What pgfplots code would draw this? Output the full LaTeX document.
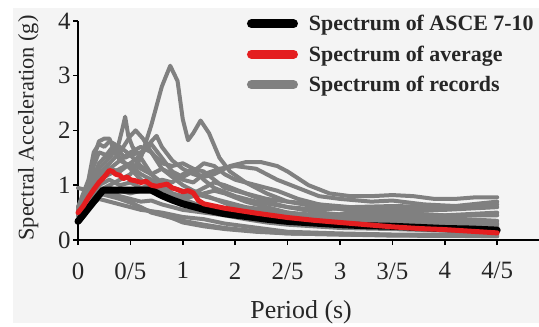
\documentclass[border=0pt]{standalone}
\usepackage{fontspec}
\setmainfont{Liberation Serif}
\usepackage{pgfplots}
\pgfplotsset{compat=1.18}
\definecolor{bgc}{HTML}{F4F4F4}
\definecolor{recg}{HTML}{808080}
\definecolor{avgred}{HTML}{E41E20}
\begin{document}
\begin{tikzpicture}
\useasboundingbox (0,0) rectangle (539bp,-327bp);
\fill[white] (0,0) rectangle (539bp,-327bp);
\fill[bgc] (13bp,-8bp) rectangle (539bp,-323bp);
\begin{axis}[
  at={(78bp,-240bp)}, anchor=south west,
  x=104.8bp, y=54.8bp,
  xmin=0, xmax=4.4, ymin=0, ymax=4,
  axis lines=left,
  axis line style={-, line width=1.6bp, black},
  tick align=outside, major tick length=5bp,
  tick style={line width=1.6bp, black},
  xtick={0,0.5,1,1.5,2,2.5,3,3.5,4},
  xticklabels={0,0/5,1,2,2/5,3,3/5,4,4/5},
  ytick={0,1,2,3,4},
  /pgf/number format/assume math mode=true,
  ticklabel style={font=\fontsize{25}{28}\selectfont, text=black!85},
  xticklabel style={yshift=-14bp},
  yticklabel style={xshift=1bp},
  xlabel={Period (s)}, ylabel={Spectral Acceleration (g)},
  xlabel style={at={(axis description cs:0.484,-0.33)}, anchor=center, font=\fontsize{26}{30}\selectfont, text=black!85},
  ylabel style={at={(axis description cs:-0.108,0.511)}, anchor=center, rotate=0, font=\fontsize{22.5}{26}\selectfont, text=black!85},
  clip=false,
  legend image code/.code={\draw[#1, line width=9bp, line cap=round] (0bp,0bp) -- (42bp,0bp); \path (52bp,0bp);},
  legend style={draw=none, fill=none, at={(axis description cs:0.366,1.035)}, anchor=north west,
    font=\bfseries\fontsize{22}{26}\selectfont, text=black!85, row sep=9.5bp, inner sep=0pt,
    nodes={inner sep=2bp}},
  legend cell align=left,
  every axis plot/.append style={line join=round, line cap=round},
]
\addlegendimage{black, line width=7bp}
\addlegendentry{Spectrum of ASCE 7-10}
\addlegendimage{avgred, line width=5bp}
\addlegendentry{Spectrum of average}
\addlegendimage{recg, line width=4bp}
\addlegendentry{Spectrum of records}
\pgfplotsset{every axis plot/.append style={forget plot}}
% records
\addplot[recg, line width=4bp] coordinates {(0,0.5)(0.1,0.7)(0.2,0.9)(0.3,1.0)(0.4,1.1)(0.5,1.2)(0.6,1.5)(0.7,2.1)(0.8,2.8)(0.88,3.18)(0.95,2.9)(1.0,2.2)(1.05,1.82)(1.1,1.95)(1.17,2.18)(1.25,1.95)(1.35,1.5)(1.45,1.25)(1.6,1.05)(1.8,0.85)(2.0,0.7)(2.3,0.6)(2.6,0.55)(3.0,0.5)(3.5,0.45)(4.0,0.45)};
\addplot[recg, line width=4bp] coordinates {(0,0.6)(0.1,0.9)(0.2,1.3)(0.3,1.5)(0.38,1.7)(0.42,2.0)(0.45,2.25)(0.48,1.9)(0.52,1.7)(0.6,1.5)(0.7,1.2)(0.8,1.0)(0.9,0.85)(1.0,0.75)(1.2,0.6)(1.5,0.5)(2.0,0.4)(2.5,0.3)(3.0,0.25)(3.5,0.2)(4.0,0.18)};
\addplot[recg, line width=4bp] coordinates {(0,0.5)(0.1,1.0)(0.15,1.5)(0.2,1.8)(0.25,1.85)(0.3,1.85)(0.35,1.6)(0.4,1.5)(0.5,1.3)(0.6,1.1)(0.8,0.85)(1.0,0.7)(1.3,0.55)(1.6,0.45)(2.0,0.35)(2.5,0.28)(3.0,0.22)(3.5,0.18)(4.0,0.15)};
\addplot[recg, line width=4bp] coordinates {(0,0.45)(0.1,0.8)(0.2,1.2)(0.3,1.4)(0.4,1.6)(0.5,1.9)(0.55,2.0)(0.62,1.85)(0.7,1.6)(0.8,1.3)(0.9,1.15)(1.0,1.0)(1.1,0.9)(1.3,0.75)(1.5,0.6)(2.0,0.45)(2.5,0.38)(3.0,0.3)(3.5,0.28)(4.0,0.25)};
\addplot[recg, line width=4bp] coordinates {(0,0.55)(0.1,0.8)(0.2,1.1)(0.3,1.2)(0.4,1.3)(0.5,1.4)(0.6,1.55)(0.7,1.8)(0.75,1.9)(0.8,1.7)(0.9,1.45)(1.0,1.3)(1.1,1.2)(1.2,1.15)(1.3,1.2)(1.45,1.35)(1.6,1.42)(1.75,1.42)(1.9,1.35)(2.0,1.25)(2.2,1.0)(2.4,0.85)(2.6,0.8)(2.8,0.8)(3.0,0.82)(3.2,0.8)(3.4,0.75)(3.6,0.75)(3.8,0.78)(4.0,0.78)};
\addplot[recg, line width=4bp] coordinates {(0,0.95)(0.1,0.9)(0.2,1.2)(0.3,1.3)(0.4,1.25)(0.5,1.4)(0.6,1.3)(0.7,1.2)(0.8,1.3)(0.9,1.2)(1.0,1.1)(1.1,1.05)(1.2,1.2)(1.35,1.3)(1.5,1.35)(1.7,1.3)(1.9,1.1)(2.1,0.95)(2.3,0.8)(2.5,0.75)(2.8,0.7)(3.0,0.72)(3.3,0.65)(3.6,0.62)(4.0,0.7)};
\addplot[recg, line width=4bp] coordinates {(0,0.5)(0.1,0.75)(0.2,0.85)(0.3,0.8)(0.4,0.75)(0.5,0.68)(0.6,0.6)(0.7,0.5)(0.8,0.45)(1.0,0.35)(1.2,0.28)(1.4,0.22)(1.6,0.18)(2.0,0.12)(2.5,0.1)(3.0,0.09)(3.5,0.08)(4.0,0.07)};
\addplot[recg, line width=4bp] coordinates {(0,0.45)(0.1,0.6)(0.2,0.75)(0.3,0.7)(0.4,0.65)(0.5,0.6)(0.6,0.55)(0.8,0.5)(1.0,0.42)(1.2,0.38)(1.4,0.3)(1.6,0.25)(1.8,0.2)(2.0,0.15)(2.5,0.12)(3.0,0.1)(4.0,0.1)};
\addplot[recg, line width=4bp] coordinates {(0,0.6)(0.1,0.85)(0.2,1.0)(0.3,1.1)(0.4,1.0)(0.5,1.05)(0.6,0.95)(0.7,1.0)(0.8,1.1)(0.9,1.05)(1.0,1.2)(1.1,1.3)(1.2,1.25)(1.3,1.1)(1.4,0.95)(1.6,0.85)(1.8,0.75)(2.0,0.7)(2.3,0.65)(2.6,0.6)(3.0,0.55)(3.5,0.55)(4.0,0.6)};
\addplot[recg, line width=4bp] coordinates {(0,0.5)(0.1,0.9)(0.2,1.4)(0.3,1.6)(0.4,1.7)(0.5,1.55)(0.6,1.6)(0.7,1.75)(0.8,1.5)(0.9,1.25)(1.0,1.15)(1.1,1.25)(1.2,1.4)(1.3,1.35)(1.4,1.2)(1.5,1.1)(1.7,1.0)(1.9,0.9)(2.1,0.75)(2.4,0.6)(2.7,0.5)(3.0,0.45)(3.5,0.4)(4.0,0.35)};
\addplot[recg, line width=4bp] coordinates {(0,0.55)(0.1,0.75)(0.2,0.95)(0.3,0.9)(0.4,0.8)(0.5,0.75)(0.6,0.7)(0.7,0.72)(0.8,0.65)(0.9,0.6)(1.0,0.55)(1.2,0.5)(1.4,0.45)(1.6,0.38)(1.8,0.32)(2.0,0.28)(2.5,0.22)(3.0,0.2)(3.5,0.17)(4.0,0.15)};
\addplot[recg, line width=4bp] coordinates {(0,0.45)(0.1,0.65)(0.2,0.8)(0.3,0.95)(0.4,0.9)(0.5,0.85)(0.6,0.9)(0.7,0.95)(0.8,0.9)(0.9,0.8)(1.0,0.75)(1.2,0.85)(1.3,0.9)(1.4,0.85)(1.6,0.7)(1.8,0.6)(2.0,0.5)(2.3,0.45)(2.6,0.48)(3.0,0.5)(3.5,0.45)(4.0,0.5)};
\addplot[recg, line width=4bp] coordinates {(0,0.5)(0.1,0.85)(0.2,1.1)(0.3,1.3)(0.4,1.45)(0.5,1.6)(0.6,1.7)(0.7,1.6)(0.8,1.4)(0.9,1.35)(1.0,1.4)(1.1,1.3)(1.2,1.1)(1.3,0.95)(1.5,0.8)(1.7,0.7)(2.0,0.6)(2.3,0.5)(2.6,0.45)(3.0,0.4)(3.5,0.35)(4.0,0.3)};
\addplot[recg, line width=4bp] coordinates {(0,0.55)(0.1,0.8)(0.2,0.9)(0.3,0.85)(0.4,0.75)(0.5,0.7)(0.6,0.58)(0.7,0.52)(0.8,0.48)(0.9,0.4)(1.0,0.32)(1.2,0.25)(1.4,0.2)(1.7,0.15)(2.0,0.12)(2.5,0.1)(3.0,0.08)(4.0,0.07)};
\addplot[recg, line width=4bp] coordinates {(0,0.6)(0.1,1.1)(0.15,1.6)(0.2,1.75)(0.25,1.7)(0.3,1.8)(0.35,1.75)(0.4,1.6)(0.45,1.5)(0.5,1.55)(0.6,1.35)(0.7,1.2)(0.8,1.05)(0.9,0.95)(1.0,0.9)(1.2,0.8)(1.4,0.7)(1.6,0.6)(1.8,0.55)(2.0,0.5)(2.3,0.42)(2.6,0.4)(3.0,0.35)(3.5,0.3)(4.0,0.28)};
\addplot[recg, line width=4bp] coordinates {(0,0.5)(0.1,0.95)(0.15,1.35)(0.2,1.6)(0.27,1.55)(0.33,1.7)(0.4,1.45)(0.5,1.35)(0.6,1.2)(0.7,1.1)(0.8,0.95)(0.9,0.85)(1.0,0.8)(1.1,0.85)(1.2,0.95)(1.3,1.05)(1.4,1.0)(1.6,0.85)(1.8,0.7)(2.0,0.6)(2.3,0.55)(2.6,0.6)(3.0,0.62)(3.5,0.6)(4.0,0.65)};
% ASCE 7-10
\addplot[black, line width=7bp] coordinates {(0,0.34)(0.05,0.46)(0.1,0.58)(0.15,0.7)(0.2,0.82)(0.24,0.91)(0.7,0.91)(0.8,0.81)(0.9,0.73)(1.0,0.66)(1.2,0.56)(1.4,0.48)(1.6,0.43)(1.8,0.38)(2.0,0.34)(2.25,0.31)(2.5,0.28)(2.75,0.26)(3.0,0.25)(3.25,0.23)(3.5,0.21)(3.75,0.2)(4.0,0.18)};
% average
\addplot[avgred, line width=5bp] coordinates {(0,0.5)(0.05,0.62)(0.1,0.78)(0.15,0.92)(0.2,1.05)(0.25,1.15)(0.3,1.27)(0.33,1.25)(0.36,1.2)(0.4,1.18)(0.43,1.12)(0.47,1.15)(0.5,1.1)(0.55,1.08)(0.6,1.05)(0.65,1.07)(0.7,1.0)(0.75,0.98)(0.8,1.0)(0.85,1.02)(0.9,0.95)(0.95,0.92)(1.0,0.88)(1.05,0.9)(1.1,0.86)(1.15,0.72)(1.2,0.66)(1.3,0.62)(1.4,0.58)(1.5,0.55)(1.7,0.49)(2.0,0.41)(2.25,0.36)(2.5,0.32)(2.75,0.28)(3.0,0.24)(3.25,0.21)(3.5,0.19)(3.75,0.16)(4.0,0.13)};
\end{axis}
\end{tikzpicture}
\end{document}
